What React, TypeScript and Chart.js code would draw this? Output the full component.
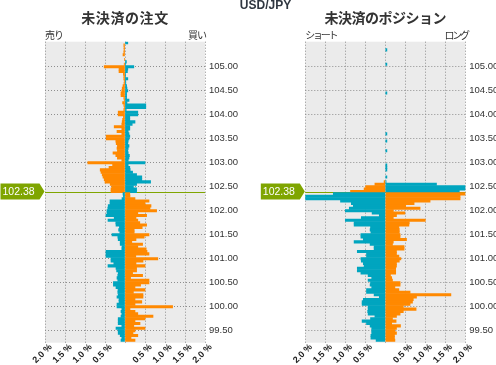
import React, { useEffect, useRef } from "react";
import { Chart, registerables } from "chart.js";

Chart.register(...registerables);

// ---------------- DATA ----------------
const pairLabel = "USD/JPY";
const currentPrice = 102.38;
const currentPriceLabel = "102.38";

const priceLevels = [
  105.50, 105.45, 105.40, 105.35, 105.30, 105.25, 105.20, 105.15, 105.10, 105.05,
  105.00, 104.95, 104.90, 104.85, 104.80, 104.75, 104.70, 104.65, 104.60, 104.55,
  104.50, 104.45, 104.40, 104.35, 104.30, 104.25, 104.20, 104.15, 104.10, 104.05,
  104.00, 103.95, 103.90, 103.85, 103.80, 103.75, 103.70, 103.65, 103.60, 103.55,
  103.50, 103.45, 103.40, 103.35, 103.30, 103.25, 103.20, 103.15, 103.10, 103.05,
  103.00, 102.95, 102.90, 102.85, 102.80, 102.75, 102.70, 102.65, 102.60, 102.55,
  102.50, 102.45, 102.40,
  102.35, 102.30, 102.25, 102.20, 102.15, 102.10, 102.05, 102.00,
  101.95, 101.90, 101.85, 101.80, 101.75, 101.70, 101.65, 101.60, 101.55, 101.50,
  101.45, 101.40, 101.35, 101.30, 101.25, 101.20, 101.15, 101.10, 101.05, 101.00,
  100.95, 100.90, 100.85, 100.80, 100.75, 100.70, 100.65, 100.60, 100.55, 100.50,
  100.45, 100.40, 100.35, 100.30, 100.25, 100.20, 100.15, 100.10, 100.05, 100.00,
  99.95, 99.90, 99.85, 99.80, 99.75, 99.70, 99.65, 99.60, 99.55, 99.50,
  99.45, 99.40, 99.35, 99.30,
];

// 未決済の注文 (open orders, % of total) — left side: 売り, right side: 買い
const orderSell = [
  0, 0.03, 0.025, 0.025, 0.03, 0.05, 0, 0.01, 0, 0.02,
  0.52, 0.15, 0.15, 0.04, 0.03, 0.03, 0.02, 0.025, 0.05, 0.07,
  0.08, 0.1, 0.1, 0.03, 0.02, 0.06, 0.03, 0.02, 0.03, 0.17,
  0.17, 0.04, 0.06, 0.07, 0.08, 0.27, 0.08, 0.2, 0.08, 0.47,
  0.47, 0.23, 0.22, 0.19, 0.2, 0.19, 0.3, 0.23, 0.19, 0.08,
  0.93, 0.31, 0.4, 0.62, 0.6, 0.57, 0.55, 0.52, 0.5, 0.37,
  0.33, 0.35, 0.35,
  0.05, 0.04, 0.075, 0.375, 0.375, 0.42, 0.43, 0.45,
  0.45, 0.475, 0.27, 0.425, 0.23, 0.225, 0.14, 0.16, 0.13, 0.325,
  0.18, 0.17, 0.12, 0.12, 0.075, 0.08, 0.475, 0.475, 0.475, 0.35,
  0.35, 0.28, 0.425, 0.225, 0.21, 0.17, 0.18, 0.2, 0.18, 0.29,
  0.29, 0.225, 0.175, 0.18, 0.17, 0.2, 0.15, 0.15, 0.2, 0.2,
  0.08, 0.1, 0.08, 0.1, 0.17, 0.17, 0.17, 0.08, 0.225, 0.17,
  0.17, 0.12, 0.08, 0.1,
];
const orderBuy = [
  0.07, 0, 0, 0, 0, 0, 0, 0, 0.035, 0.01,
  0.22, 0.07, 0.06, 0.01, 0.01, 0.07, 0.02, 0.02, 0.04, 0.05,
  0.07, 0.04, 0.04, 0.04, 0.1, 0.05, 0.52, 0.52, 0.03, 0.32,
  0.32, 0.12, 0.12, 0.25, 0.18, 0.12, 0.12, 0.08, 0.1, 0.12,
  0.1, 0.08, 0.07, 0.1, 0.08, 0.07, 0.08, 0.11, 0.1, 0.08,
  0.5, 0.08, 0.12, 0.13, 0.19, 0.29, 0.42, 0.42, 0.64, 0.29,
  0.21, 0.29, 0.29,
  0.12, 0.125, 0.25, 0.6, 0.5, 0.65, 0.625, 0.79,
  0.32, 0.54, 0.275, 0.32, 0.37, 0.54, 0.43, 0.23, 0.23, 0.6,
  0.48, 0.275, 0.17, 0.44, 0.32, 0.53, 0.55, 0.6, 0.27, 0.82,
  0.45, 0.275, 0.5, 0.29, 0.29, 0.19, 0.44, 0.14, 0.6, 0.6,
  0.39, 0.25, 0.5, 0.21, 0.45, 0.45, 0.25, 0.42, 0.25, 1.19,
  0.125, 0.25, 0.32, 0.7, 0.5, 0.25, 0.375, 0.22, 0.5, 0.25,
  0.2, 0.32, 0.15, 0.25,
];

// 未決済のポジション (open positions, % of total) — left: ショート, right: ロング
const positionShort = [
  0, 0, 0, 0, 0, 0, 0, 0, 0, 0,
  0, 0, 0, 0, 0, 0, 0, 0, 0, 0,
  0, 0, 0, 0, 0, 0, 0, 0, 0, 0,
  0, 0, 0, 0, 0, 0, 0, 0, 0, 0,
  0, 0, 0, 0, 0, 0, 0, 0, 0, 0,
  0, 0, 0, 0, 0, 0, 0, 0, 0.03, 0.26,
  0.49, 0.53, 0.87,
  1.3, 2.1, 2.1, 1.12, 0.85, 0.8, 0.9, 1.0,
  0.33, 0.15, 0.6, 1.0, 0.78, 0.78, 0.37, 0.38, 0.36, 0.61,
  0.61, 0.55, 0.78, 0.38, 0.28, 0.28, 0.7, 0.47, 0.47, 0.61,
  0.6, 0.55, 0.53, 0.7, 0.7, 0.61, 0.43, 0.34, 0.43, 0.37,
  0.38, 0.34, 0.47, 0.47, 0.28, 0.15, 0.55, 0.58, 0.58, 0.43,
  0.43, 0.44, 0.43, 0.26, 0.37, 0.58, 0.47, 0.38, 0.34, 0.34,
  0.34, 0.36, 0.36, 0.23,
];
const positionLong = [
  0, 0, 0, 0.04, 0, 0, 0, 0, 0, 0.04,
  0, 0, 0, 0, 0, 0, 0, 0, 0, 0,
  0, 0.04, 0, 0, 0, 0, 0, 0, 0, 0,
  0, 0, 0, 0, 0, 0, 0, 0, 0.04, 0,
  0, 0.04, 0, 0, 0, 0.04, 0, 0, 0, 0,
  0, 0.04, 0.04, 0.04, 0, 0, 0.04, 0, 0.02, 1.28,
  2.1, 2.1, 1.85,
  2.1, 1.87, 1.87, 1.12, 0.72, 0.51, 0.87, 0.2,
  0.49, 0.28, 0.2, 1.0, 0.6, 0.59, 0.34, 0.35, 0.35, 0.37,
  0.37, 0.53, 0.2, 0.18, 0.47, 0.47, 0.28, 0.28, 0.34, 0.39,
  0.35, 0.28, 0.28, 0.26, 0.26, 0.26, 0.13, 0.16, 0.18, 0.37,
  0.37, 0.24, 0.34, 0.62, 1.64, 0.78, 0.7, 0.68, 0.62, 0.45,
  0.77, 0.45, 0.37, 0.28, 0.18, 0.27, 0.16, 0.38, 0.28, 0.24,
  0.28, 0.23, 0.23, 0.24,
];

const xTickValues = [-2, -1.5, -1, -0.5, 0, 0.5, 1, 1.5, 2];
const yTickValues = [99.5, 100, 100.5, 101, 101.5, 102, 102.5, 103, 103.5, 104, 104.5, 105];

const orderTitle = "未決済の注文";
const orderSideLabels = ["売り", "買い"];
const positionTitle = "未決済のポジション";
const positionSideLabels = ["ショート", "ロング"];

// ---------------- STYLE ----------------
const W = 496;
const H = 365;
const ORANGE = "#FF8900";
const TEAL = "#00A5BF";
const PLOT_BG = "#EBEBEB";
const GRID = "#8E8E8E";
const GREEN = "#7FA500";
const TEXT = "#333333";
const PLOT_TOP = 41.7;
const PLOT_BOTTOM = 342.7;
const Y_MIN = 99.25;
const Y_MAX = 105.52;
const LATIN = '"Liberation Sans", Arial, sans-serif';
const CJK = '"Noto Sans CJK JP", sans-serif';

const formatX = (v: number) => Math.abs(v).toFixed(1) + " %";

type PanelCfg = {
  canvasWidth: number;
  plotLeft: number;
  plotRight: number;
  title: string;
  titleSpacing: number;
  sideLabels: string[];
  sideSpacing: number;
  leftValues: number[];
  rightValues: number[];
  drawPair: boolean;
};

function makeDecor(cfg: PanelCfg) {
  return {
    id: "decor",
    beforeDraw(chart: any) {
      const { ctx, chartArea: a } = chart;
      ctx.save();
      ctx.fillStyle = PLOT_BG;
      ctx.fillRect(a.left, a.top, a.right - a.left, a.bottom - a.top);
      ctx.restore();
    },
    beforeDatasetsDraw(chart: any) {
      const { ctx, chartArea: a } = chart;
      const y = Math.round(chart.scales.y.getPixelForValue(currentPrice)) + 0.5;
      ctx.save();
      ctx.strokeStyle = GREEN;
      ctx.lineWidth = 1;
      ctx.beginPath();
      ctx.moveTo(a.left, y);
      ctx.lineTo(a.right, y);
      ctx.stroke();
      ctx.restore();
    },
    afterDraw(chart: any) {
      const { ctx, chartArea: a } = chart;
      const cx = (a.left + a.right) / 2;
      ctx.save();
      // title
      ctx.fillStyle = TEXT;
      ctx.font = `bold 14px ${CJK}`;
      ctx.textAlign = "center";
      ctx.textBaseline = "middle";
      (ctx as any).letterSpacing = `${cfg.titleSpacing}px`;
      ctx.fillText(cfg.title, cx, 18);
      // side labels
      ctx.font = `10px ${CJK}`;
      (ctx as any).letterSpacing = `${cfg.sideSpacing}px`;
      ctx.textAlign = "left";
      ctx.fillText(cfg.sideLabels[0], a.left, 35);
      ctx.textAlign = "right";
      ctx.fillText(cfg.sideLabels[1], a.right - cfg.sideSpacing, 35);
      (ctx as any).letterSpacing = "0px";
      // pair label
      if (cfg.drawPair) {
        ctx.fillStyle = "#2F3640";
        ctx.font = `bold 12px ${LATIN}`;
        ctx.textAlign = "center";
        ctx.textBaseline = "alphabetic";
        ctx.fillText(pairLabel, 265.5, 8.8);
      }
      // x tick labels (rotated, centred on their tick)
      const xs = chart.scales.x;
      ctx.fillStyle = "#222222";
      ctx.font = `bold 9px ${LATIN}`;
      ctx.textAlign = "center";
      ctx.textBaseline = "middle";
      xTickValues.forEach((v) => {
        if (v === 0) return;
        const px = xs.getPixelForValue(v);
        ctx.save();
        ctx.translate(px - 2.5, a.bottom + 11);
        ctx.rotate(-Math.PI / 4);
        ctx.fillText(formatX(v), 0, 0);
        ctx.restore();
      });
      // price tag
      const y = chart.scales.y.getPixelForValue(currentPrice);
      const tip = a.left - 0.5;
      const bodyRight = tip - 5;
      const bodyLeft = bodyRight - 39;
      const top = y - 9;
      const bottom = y + 7;
      ctx.fillStyle = GREEN;
      ctx.beginPath();
      ctx.moveTo(bodyLeft, top);
      ctx.lineTo(bodyRight, top);
      ctx.lineTo(tip, y - 1);
      ctx.lineTo(bodyRight, bottom);
      ctx.lineTo(bodyLeft, bottom);
      ctx.closePath();
      ctx.fill();
      ctx.fillStyle = "#FFFFFF";
      ctx.font = `10.5px ${LATIN}`;
      ctx.textAlign = "left";
      ctx.textBaseline = "middle";
      ctx.fillText(currentPriceLabel, bodyLeft + 2, y - 0.5);
      ctx.restore();
    },
  };
}

function makeConfig(cfg: PanelCfg): any {
  const leftColors = priceLevels.map((p) => (p > currentPrice ? ORANGE : TEAL));
  const rightColors = priceLevels.map((p) => (p > currentPrice ? TEAL : ORANGE));
  const barCommon = {
    grouped: false,
    barPercentage: 1,
    categoryPercentage: 1,
    borderWidth: 0,
  };
  return {
    type: "bar",
    data: {
      datasets: [
        {
          ...barCommon,
          data: priceLevels.map((p, i) => ({
            x: cfg.leftValues[i] === 0 ? null : -cfg.leftValues[i],
            y: p,
          })),
          backgroundColor: leftColors,
        },
        {
          ...barCommon,
          data: priceLevels.map((p, i) => ({
            x: cfg.rightValues[i] === 0 ? null : cfg.rightValues[i],
            y: p,
          })),
          backgroundColor: rightColors,
        },
      ],
    },
    options: {
      indexAxis: "y",
      animation: false,
      responsive: false,
      devicePixelRatio: 1,
      events: [],
      layout: { padding: { left: cfg.plotLeft, top: PLOT_TOP, right: 0, bottom: 0 } },
      plugins: {
        legend: { display: false },
        tooltip: { enabled: false },
        title: { display: false },
      },
      scales: {
        x: {
          type: "linear",
          position: "bottom",
          min: -2,
          max: 2,
          afterBuildTicks: (s: any) => {
            s.ticks = xTickValues.map((v) => ({ value: v }));
          },
          afterFit: (s: any) => {
            s.height = H - PLOT_BOTTOM;
          },
          ticks: { display: false, autoSkip: false, callback: (v: number) => formatX(v) },
          grid: { color: GRID, lineWidth: 1, drawTicks: false },
          border: { display: false, dash: [1, 2] },
        },
        y: {
          type: "linear",
          position: "right",
          min: Y_MIN,
          max: Y_MAX,
          offset: false,
          afterBuildTicks: (s: any) => {
            s.ticks = yTickValues.map((v) => ({ value: v }));
          },
          afterFit: (s: any) => {
            s.width = cfg.canvasWidth - cfg.plotRight;
          },
          ticks: {
            padding: 4,
            color: TEXT,
            font: { family: LATIN, size: 9.5 },
            callback: (v: number) => v.toFixed(2),
          },
          grid: { color: GRID, lineWidth: 1, drawTicks: false, offset: false },
          border: { display: false, dash: [1, 2] },
        },
      },
    },
    plugins: [makeDecor(cfg)],
  };
}

function Panel({ cfg }: { cfg: PanelCfg }) {
  const ref = useRef<HTMLCanvasElement | null>(null);
  useEffect(() => {
    if (!ref.current) return;
    const chart = new Chart(ref.current, makeConfig(cfg));
    return () => chart.destroy();
  }, []);
  return (
    <canvas
      ref={ref}
      width={cfg.canvasWidth}
      height={H}
      style={{ position: "absolute", left: 0, top: 0, width: cfg.canvasWidth, height: H }}
    />
  );
}

export default function App() {
  const orderCfg: PanelCfg = {
    canvasWidth: 248,
    plotLeft: 45,
    plotRight: 205,
    title: orderTitle,
    titleSpacing: 0.6,
    sideLabels: orderSideLabels,
    sideSpacing: -1,
    leftValues: orderSell,
    rightValues: orderBuy,
    drawPair: false,
  };
  const positionCfg: PanelCfg = {
    canvasWidth: W,
    plotLeft: 305.3,
    plotRight: 465.3,
    title: positionTitle,
    titleSpacing: -0.5,
    sideLabels: positionSideLabels,
    sideSpacing: -2.3,
    leftValues: positionShort,
    rightValues: positionLong,
    drawPair: true,
  };
  return (
    <div style={{ position: "absolute", left: 0, top: 0, width: W, height: H, background: "#fff" }}>
      <Panel cfg={orderCfg} />
      <Panel cfg={positionCfg} />
    </div>
  );
}
